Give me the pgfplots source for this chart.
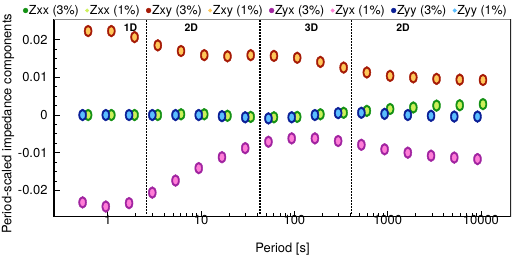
\documentclass[border=0pt]{standalone}
\usepackage{fontspec}
\setmainfont{TeX Gyre Heros}
\usepackage{pgfplots}
\pgfplotsset{compat=1.18}
\definecolor{zxxA}{RGB}{20,145,20}
\definecolor{zxxB}{RGB}{205,240,90}
\definecolor{zxyA}{RGB}{165,25,5}
\definecolor{zxyB}{RGB}{255,200,90}
\definecolor{zyxA}{RGB}{160,35,160}
\definecolor{zyxB}{RGB}{255,125,215}
\definecolor{zyyA}{RGB}{10,30,150}
\definecolor{zyyB}{RGB}{90,190,255}
\pgfplotsset{
  bigm/.style={only marks, mark=*, color=#1, mark size=4bp, mark options={yscale=1.5}, forget plot},
  smallm/.style={only marks, mark=*, color=#1, mark size=2.2bp, mark options={yscale=1.6}, forget plot},
}
\begin{document}
\begin{tikzpicture}
\begin{axis}[
 scale only axis, width=457bp, height=197.7bp,
 xmode=log, xmin=0.265, xmax=21000, ymin=-0.027, ymax=0.0255,
 xtick={1,10,100,1000,10000}, xticklabels={1,10,100,1000,10000},
 ytick={-0.02,-0.01,0,0.01,0.02}, yticklabels={-0.02,-0.01,0,0.01,0.02},
 scaled y ticks=false, scaled x ticks=false,
 minor y tick num=3,
 axis x line*=bottom, axis y line*=left,
 axis line style={line width=1.1bp},
 tick align=inside, major tick length=6bp, minor tick length=3.5bp,
 tick style={black, line width=0.8bp},
 tick label style={font=\fontsize{13}{15}\selectfont},
 xticklabel style={yshift=5bp},
 yticklabel style={xshift=-3bp},
 xlabel={Period [s]}, ylabel={Period-scaled impedance components},
 label style={font=\fontsize{13}{15}\selectfont},
 xlabel style={at={(axis description cs:0.5,-0.163)}, anchor=center},
 ylabel style={at={(axis description cs:-0.1006,0.47)}, anchor=center},
 legend columns=8,
 legend cell align=left,
 legend style={at={(rel axis cs:1,1)}, anchor=south east, draw=none, fill=none,
   font=\fontsize{12.5}{14}\selectfont, yshift=0bp, nodes={inner sep=1bp},
   /tikz/every even column/.append style={column sep=5.5bp}},
 legend image code/.code={\draw[mark repeat=2,mark phase=2,#1] plot coordinates {(0cm,0cm) (0.09cm,0cm) (0.18cm,0cm)};},
]
\addlegendimage{only marks, mark=*, zxxA, mark size=2.4bp}
\addlegendentry{Zxx (3\%)}
\addlegendimage{only marks, mark=*, zxxB, mark size=1.8bp}
\addlegendentry{Zxx (1\%)}
\addlegendimage{only marks, mark=*, zxyA, mark size=2.4bp}
\addlegendentry{Zxy (3\%)}
\addlegendimage{only marks, mark=*, zxyB, mark size=1.8bp}
\addlegendentry{Zxy (1\%)}
\addlegendimage{only marks, mark=*, zyxA, mark size=2.4bp}
\addlegendentry{Zyx (3\%)}
\addlegendimage{only marks, mark=*, zyxB, mark size=1.8bp}
\addlegendentry{Zyx (1\%)}
\addlegendimage{only marks, mark=*, zyyA, mark size=2.4bp}
\addlegendentry{Zyy (3\%)}
\addlegendimage{only marks, mark=*, zyyB, mark size=1.8bp}
\addlegendentry{Zyy (1\%)}

% dimensionality boundaries
\addplot[black, line width=1.6bp, dash pattern=on 1.2bp off 1.8bp, forget plot] coordinates {(2.6,-0.027) (2.6,0.0255)};
\addplot[black, line width=1.6bp, dash pattern=on 1.2bp off 1.8bp, forget plot] coordinates {(42.6,-0.027) (42.6,0.0255)};
\addplot[black, line width=1.6bp, dash pattern=on 1.2bp off 1.8bp, forget plot] coordinates {(409,-0.027) (409,0.0255)};

% Zxx
\addplot[bigm=zxxA] coordinates {(0.615,0) (1.091,0) (1.936,0) (3.436,0) (6.095,0.0002) (10.81,0.0002) (19.19,-0.0002) (34.04,-0.0005) (60.39,-0.0006) (107.2,-0.0005) (190.1,0.0002) (337.3,0.0006) (598.4,0.0011) (1062,0.0016) (1884,0.0020) (3342,0.0025) (5929,0.0026) (10520,0.0029)};
\addplot[smallm=zxxB] coordinates {(0.615,0) (1.091,0) (1.936,0) (3.436,0) (6.095,0.0002) (10.81,0.0002) (19.19,-0.0002) (34.04,-0.0005) (60.39,-0.0006) (107.2,-0.0005) (190.1,0.0002) (337.3,0.0006) (598.4,0.0011) (1062,0.0016) (1884,0.0020) (3342,0.0025) (5929,0.0026) (10520,0.0029)};
% Zxy
\addplot[bigm=zxyA] coordinates {(0.615,0.0223) (1.091,0.0223) (1.936,0.0207) (3.436,0.0185) (6.095,0.0170) (10.81,0.0159) (19.19,0.0156) (34.04,0.0159) (60.39,0.0157) (107.2,0.0152) (190.1,0.0141) (337.3,0.0126) (598.4,0.0113) (1062,0.0104) (1884,0.0100) (3342,0.0096) (5929,0.0094) (10520,0.0093)};
\addplot[smallm=zxyB] coordinates {(0.615,0.0223) (1.091,0.0223) (1.936,0.0207) (3.436,0.0185) (6.095,0.0170) (10.81,0.0159) (19.19,0.0156) (34.04,0.0159) (60.39,0.0157) (107.2,0.0152) (190.1,0.0141) (337.3,0.0126) (598.4,0.0113) (1062,0.0104) (1884,0.0100) (3342,0.0096) (5929,0.0094) (10520,0.0093)};
% Zyx
\addplot[bigm=zyxA] coordinates {(0.537,-0.0232) (0.952,-0.0243) (1.690,-0.0234) (3.000,-0.0206) (5.321,-0.0174) (9.437,-0.0141) (16.75,-0.0112) (29.72,-0.0088) (52.72,-0.0071) (93.59,-0.0062) (166.0,-0.0062) (294.5,-0.0069) (522.4,-0.0079) (927.1,-0.0091) (1645,-0.0100) (2918,-0.0108) (5176,-0.0113) (9184,-0.0117)};
\addplot[smallm=zyxB] coordinates {(0.537,-0.0232) (0.952,-0.0243) (1.690,-0.0234) (3.000,-0.0206) (5.321,-0.0174) (9.437,-0.0141) (16.75,-0.0112) (29.72,-0.0088) (52.72,-0.0071) (93.59,-0.0062) (166.0,-0.0062) (294.5,-0.0069) (522.4,-0.0079) (927.1,-0.0091) (1645,-0.0100) (2918,-0.0108) (5176,-0.0113) (9184,-0.0117)};
% Zyy
\addplot[bigm=zyyA] coordinates {(0.537,0) (0.952,0) (1.690,0) (3.000,0) (5.321,0) (9.437,0) (16.75,-0.0003) (29.72,-0.0006) (52.72,-0.0009) (93.59,-0.0006) (166.0,0) (294.5,0.0005) (522.4,0.0006) (927.1,0.0003) (1645,0) (2918,-0.0002) (5176,-0.0004) (9184,-0.0004)};
\addplot[smallm=zyyB] coordinates {(0.537,0) (0.952,0) (1.690,0) (3.000,0) (5.321,0) (9.437,0) (16.75,-0.0003) (29.72,-0.0006) (52.72,-0.0009) (93.59,-0.0006) (166.0,0) (294.5,0.0005) (522.4,0.0006) (927.1,0.0003) (1645,0) (2918,-0.0002) (5176,-0.0004) (9184,-0.0004)};

\node[font=\bfseries\fontsize{10.5}{12}\selectfont] at (axis cs:1.75,0.0232) {1D};
\node[font=\bfseries\fontsize{10.5}{12}\selectfont] at (axis cs:7.85,0.0232) {2D};
\node[font=\bfseries\fontsize{10.5}{12}\selectfont] at (axis cs:152.5,0.0232) {3D};
\node[font=\bfseries\fontsize{10.5}{12}\selectfont] at (axis cs:1462,0.0232) {2D};

\draw[black!45, line width=0.8bp] (rel axis cs:0,1) -- (rel axis cs:1,1);
\draw[black!85, line width=1.1bp] (rel axis cs:1,0) -- (rel axis cs:1,1);
\end{axis}
\pgfresetboundingbox
\path[use as bounding box] (-54bp,-40.3bp) rectangle (460bp,216.7bp);
\end{tikzpicture}
\end{document}
